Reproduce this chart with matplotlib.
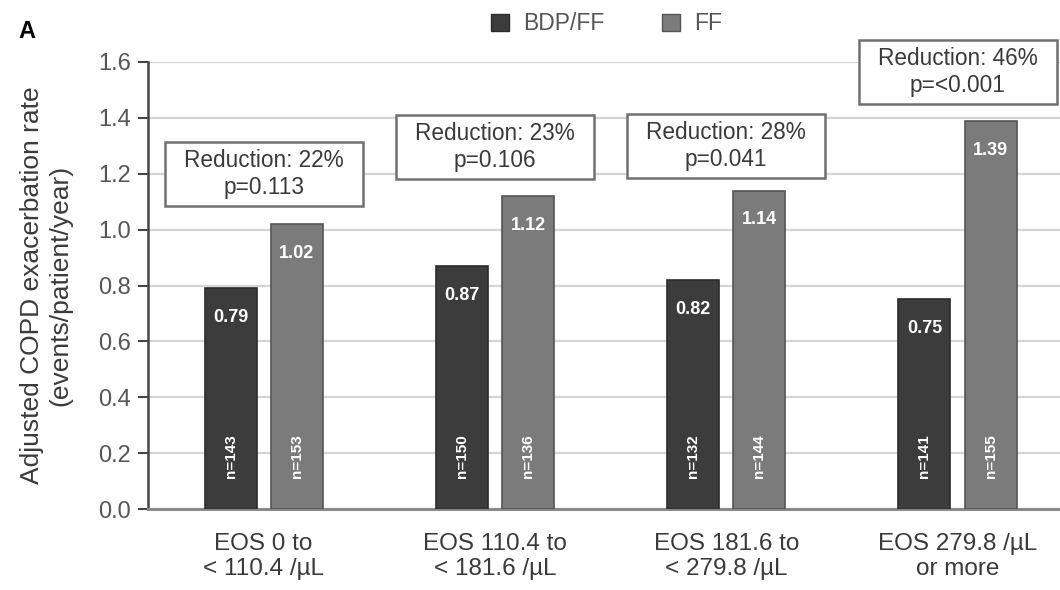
import matplotlib
matplotlib.use("Agg")
import matplotlib.pyplot as plt
from matplotlib.patches import Rectangle, Patch
import numpy as np

plt.rcParams['font.family'] = ['Liberation Sans', 'DejaVu Sans']

categories = ["EOS 0 to\n< 110.4 /\u00b5L", "EOS 110.4 to\n< 181.6 /\u00b5L",
              "EOS 181.6 to\n< 279.8 /\u00b5L", "EOS 279.8 /\u00b5L\nor more"]
bdp_ff = [0.79, 0.87, 0.82, 0.75]
ff = [1.02, 1.12, 1.14, 1.39]
n_bdp_ff = ["n=143", "n=150", "n=132", "n=141"]
n_ff = ["n=153", "n=136", "n=144", "n=155"]
reductions = ["Reduction: 22%\np=0.113", "Reduction: 23%\np=0.106",
              "Reduction: 28%\np=0.041", "Reduction: 46%\np=<0.001"]
box_centers = [1.20, 1.295, 1.30, 1.565]
yticks = [0.0, 0.2, 0.4, 0.6, 0.8, 1.0, 1.2, 1.4, 1.6]

c_dark = "#3c3c3c"
c_light = "#7b7b7b"

fig = plt.figure(figsize=(10.6, 5.9), dpi=100)
ax = fig.add_axes([148 / 1060, 1 - 509 / 590, 1 - 148 / 1060, (509 - 62) / 590])

x = np.arange(len(categories))
off = 0.143
w = 0.225
ax.bar(x - off, bdp_ff, w, color=c_dark, edgecolor="#2c2c2c", linewidth=1.2, zorder=3)
ax.bar(x + off, ff, w, color=c_light, edgecolor="#555555", linewidth=1.2, zorder=3)

for xs, vals, ns in ((x - off, bdp_ff, n_bdp_ff), (x + off, ff, n_ff)):
    for xi, v, n in zip(xs, vals, ns):
        ax.text(xi, v - 0.105, f"{v:.2f}", ha="center", va="center", color="white",
                fontsize=13, fontweight="bold", zorder=4)
        ax.text(xi, 0.19, n, ha="center", va="center", color="white", rotation=90,
                fontsize=11, fontweight="bold", zorder=4)

bw, bh = 0.856, 0.23
for xi, yc, txt in zip(x, box_centers, reductions):
    ax.add_patch(Rectangle((xi - bw / 2, yc - bh / 2), bw, bh, facecolor="white",
                           edgecolor="#707070", linewidth=1.8, zorder=5, clip_on=False))
    ax.text(xi, yc, txt, ha="center", va="center", fontsize=16.3, color="#3a3a3a",
            linespacing=1.2, zorder=6)

ax.set_xlim(-0.5, -0.5 + 912 / 231.3)
ax.set_ylim(0, 1.6)
ax.set_yticks(yticks)
ax.set_yticklabels([f"{t:.1f}" for t in yticks])
ax.set_xticks(x)
ax.set_xticklabels(categories, fontsize=17.5, color="#3a3a3a", linespacing=1.2)
ax.tick_params(axis="x", length=0, pad=17)
ax.tick_params(axis="y", length=7, width=1.5, color="#444444", labelsize=17,
               labelcolor="#555555", pad=5)
ax.grid(axis="y", color="#d4d4d4", linewidth=1.6, zorder=0)
ax.set_axisbelow(True)
for s in ["top", "right"]:
    ax.spines[s].set_visible(False)
ax.spines["left"].set_color("#444444")
ax.spines["left"].set_linewidth(1.8)
ax.spines["bottom"].set_color("#8a8a8a")
ax.spines["bottom"].set_linewidth(2.2)

ax.set_ylabel("Adjusted COPD exacerbation rate\n(events/patient/year)", fontsize=19,
              color="#3a3a3a", linespacing=1.2, labelpad=19)

fig.text(27 / 1060, 1 - 31 / 590, "A", fontsize=17, fontweight="bold", ha="center",
         va="center", color="black")

handles = [Patch(facecolor=c_dark, edgecolor="#2c2c2c", label="BDP/FF"),
           Patch(facecolor=c_light, edgecolor="#555555", label="FF")]
leg = fig.legend(handles=handles, loc="center", bbox_to_anchor=(0.572, 1 - 24 / 590),
                 ncol=2, frameon=False, fontsize=16.5, handlelength=0.8, handleheight=0.8,
                 handletextpad=0.6, columnspacing=2.5)
for t in leg.get_texts():
    t.set_color("#555555")

fig.savefig("out.png", dpi=100)
